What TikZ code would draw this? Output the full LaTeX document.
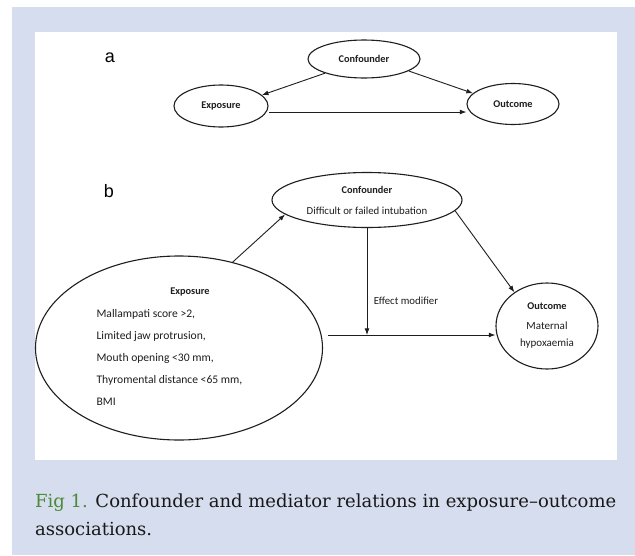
\documentclass[tikz,border=0pt]{standalone}
\usepackage{fontspec}
\setmainfont{DejaVu Serif}
\newfontfamily\diagfont{Carlito}
\newfontfamily\tagfont{Liberation Sans}
\usetikzlibrary{positioning,arrows.meta,shapes.geometric}
\definecolor{pageblue}{HTML}{D5DDEE}
\definecolor{figgreen}{HTML}{4B8A37}
\definecolor{inkgray}{HTML}{1E1E1E}
\tikzset{
  flowarrow/.style={-{Latex[length=2.3mm,width=1.7mm]}, line width=0.9pt, draw=inkgray},
  oval/.style={draw=inkgray, line width=1.1pt, ellipse, inner sep=0pt, align=center, text=inkgray},
  ovalhead/.style={font=\diagfont\bfseries\fontsize{10.3}{12}\selectfont, text=inkgray},
  ovaltext/.style={font=\diagfont\fontsize{10.8}{21}\selectfont, text=inkgray},
  listtext/.style={font=\diagfont\fontsize{11.6}{22}\selectfont, text=inkgray, align=left},
  panellabel/.style={font=\tagfont\fontsize{18}{20}\selectfont, text=black},
  captext/.style={font=\fontsize{18}{27}\selectfont, text=black!90, anchor=base west, inner sep=0pt}
}

\begin{document}
\begin{tikzpicture}[x=1pt, y=-1pt]
  \useasboundingbox (0,0) rectangle (635,555);
  \fill[pageblue] (12,7) rectangle (635,555);
  \fill[white] (35,32) rectangle (617,460);

  % panel a
  \node[panellabel] (taga) at (110,58) {a};
  \node[oval, ovalhead, minimum width=112pt, minimum height=38pt] (confa) at (364,59) {Confounder};
  \node[oval, ovalhead, minimum width=94pt, minimum height=42pt] (expa) at (221,106) {Exposure};
  \node[oval, ovalhead, minimum width=92pt, minimum height=41pt] (outa) at (513,104) {Outcome};
  \coordinate (directa) at (269,112);
  \draw[flowarrow] (confa.200) -- (expa.15);
  \draw[flowarrow] (confa.-15) -- (outa.165);
  \draw[flowarrow] (directa) -- (directa -| outa.west);

  % panel b
  \node[panellabel] (tagb) at (109,191) {b};
  \node[oval, ovaltext, minimum width=190pt, minimum height=55pt] (confb) at (367,200)
    {{\fontsize{10.3}{12}\selectfont\bfseries Confounder}\\ Difficult or failed intubation};
  \node[oval, minimum width=287pt, minimum height=184pt] (expb) at (179,348) {};
  \node[ovalhead] (expbhead) at (190,292) {Exposure};
  \node[listtext, anchor=west] (expblist) at (93,357)
    {Mallampati score >2,\\ Limited jaw protrusion,\\ Mouth opening <30 mm,\\ Thyromental distance <65 mm,\\ BMI};
  \node[oval, font=\diagfont\fontsize{11}{17}\selectfont, minimum width=102pt, minimum height=86pt] (outb) at (547,326)
    {{\fontsize{10.3}{12}\selectfont\bfseries Outcome}\\[3pt] Maternal\\ hypoxaemia};
  \node[font=\diagfont\fontsize{10.8}{12}\selectfont, text=inkgray] (effmod) at (406,301) {Effect modifier};
  \coordinate (mainline) at (328,335);
  \draw[flowarrow] (expb.58) -- (confb.190);
  \draw[flowarrow] (confb.-7) -- (outb.134);
  \draw[flowarrow] (confb.south) -- (confb.south |- mainline);
  \draw[flowarrow] (mainline) -- (mainline -| outb.west);

  % caption
  \node[captext] (cap1) at (35,507) {\textcolor{figgreen}{Fig 1.} Confounder and mediator relations in exposure--outcome};
  \node[captext] (cap2) at (35,535) {associations.};
\end{tikzpicture}
\end{document}
